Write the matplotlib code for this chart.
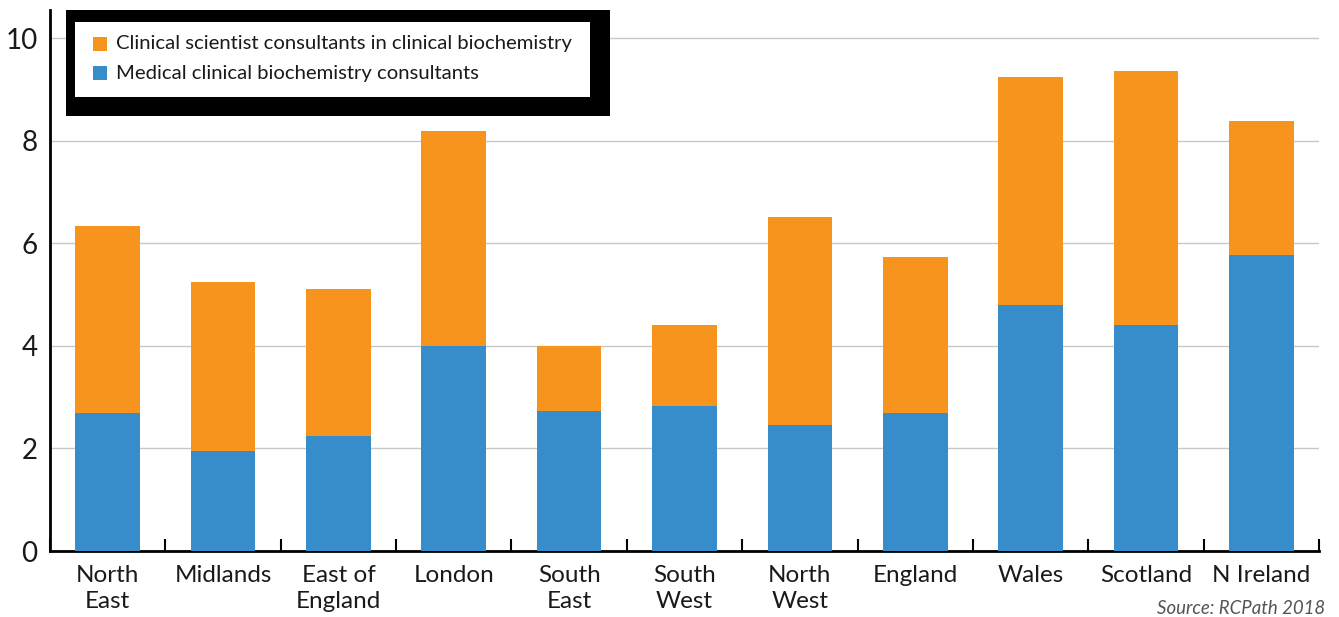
import matplotlib
matplotlib.use("Agg")
import matplotlib.pyplot as plt
from matplotlib.patches import Rectangle
import numpy as np

categories = ["North\nEast", "Midlands", "East of\nEngland", "London", "South\nEast",
              "South\nWest", "North\nWest", "England", "Wales", "Scotland", "N Ireland"]
medical = [2.69, 1.95, 2.24, 4.00, 2.73, 2.83, 2.46, 2.69, 4.80, 4.41, 5.77]
totals = [6.34, 5.24, 5.11, 8.19, 4.00, 4.41, 6.51, 5.73, 9.24, 9.36, 8.38]
scientist = [t - m for t, m in zip(totals, medical)]
legend_labels = ["Clinical scientist consultants in clinical biochemistry",
                 "Medical clinical biochemistry consultants"]
yticks = [0, 2, 4, 6, 8, 10]

ORANGE = "#F7941D"
BLUE = "#368DC9"

plt.rcParams['font.family'] = ['Lato', 'DejaVu Sans']

W, H = 1339, 617
fig = plt.figure(figsize=(W / 100, H / 100), dpi=100)
ax = fig.add_axes([50 / W, (H - 551) / H, (1319 - 50) / W, (551 - 10) / H])

x = np.arange(len(categories))
ax.bar(x, medical, width=0.56, color=BLUE, zorder=3)
ax.bar(x, scientist, bottom=medical, width=0.56, color=ORANGE, zorder=3)

ax.set_xlim(-0.5, len(categories) - 0.5)
ax.set_ylim(0, (551 - 10) / 51.3)
ax.set_yticks(yticks)
ax.set_yticklabels([str(v) for v in yticks], fontsize=20, color="#1a1a1a")
ax.tick_params(axis='y', length=0, pad=9)
ax.yaxis.grid(True, color="#c8c8c8", linewidth=1, zorder=0)

ax.set_xticks(np.arange(len(categories) + 1) - 0.5)
ax.set_xticklabels([])
ax.tick_params(axis='x', which='major', direction='in', length=9, width=1.5, color='black')
ax.set_xticks(x, minor=True)
ax.set_xticklabels(categories, minor=True, fontsize=17.5, color="#1a1a1a", linespacing=1.28)
ax.tick_params(axis='x', which='minor', length=0, pad=10)

for s in ['top', 'right']:
    ax.spines[s].set_visible(False)
for s in ['left', 'bottom']:
    ax.spines[s].set_linewidth(2)
    ax.spines[s].set_color('black')

# Legend box with thick black frame
def fx(px):
    return px / W

def fy(py):
    return 1 - py / H

fig.patches.append(Rectangle((fx(66), fy(116)), fx(610) - fx(66), fy(10) - fy(116),
                             transform=fig.transFigure, facecolor='black', edgecolor='none', zorder=10))
fig.patches.append(Rectangle((fx(75), fy(97)), fx(590) - fx(75), fy(22) - fy(97),
                             transform=fig.transFigure, facecolor='white', edgecolor='none', zorder=11))
for i, (lab, col) in enumerate(zip(legend_labels, [ORANGE, BLUE])):
    cy = 44 + i * 29
    fig.patches.append(Rectangle((fx(93), fy(cy + 7)), fx(107) - fx(93), fy(cy - 7) - fy(cy + 7),
                                 transform=fig.transFigure, facecolor=col, edgecolor='none', zorder=12))
    fig.text(fx(116), fy(cy), lab, fontsize=14.6, color="#1a1a1a", va='center', ha='left', zorder=13)

fig.text(fx(1325), fy(608), "Source: RCPath 2018", fontsize=13.4, style='italic',
         color="#555555", ha='right', va='center')

fig.savefig("out.png", dpi=100)
